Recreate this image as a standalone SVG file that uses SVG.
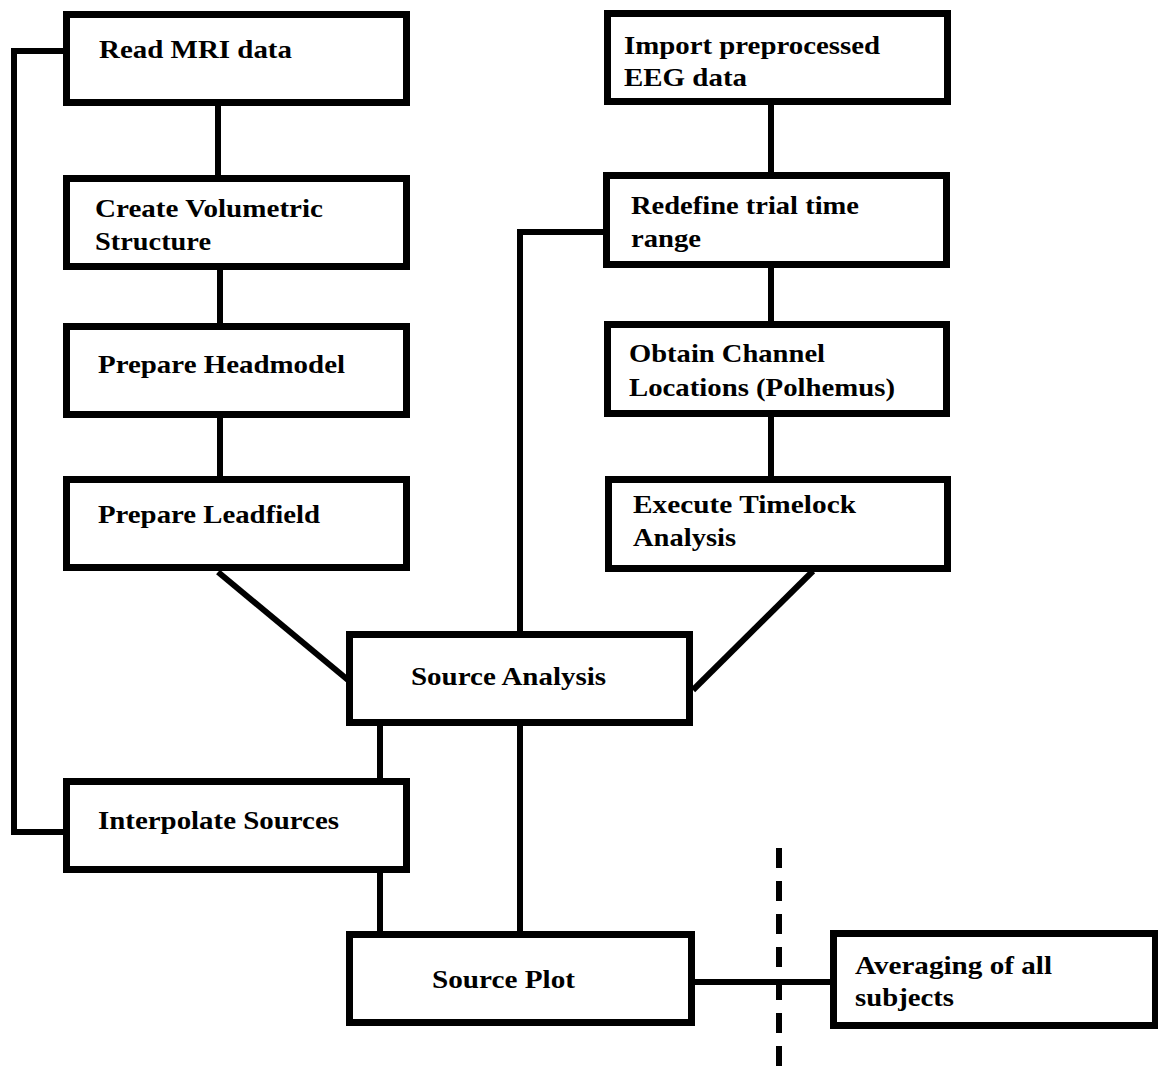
<svg xmlns="http://www.w3.org/2000/svg" width="1158" height="1076" viewBox="0 0 1158 1076">
<style>
.box{fill:#fff;stroke:#000;stroke-width:7}
.t{font-family:"Liberation Serif","Times New Roman",Times,serif;font-weight:700;font-size:26px;fill:#000}
.c{fill:none;stroke:#000;stroke-width:6}
.d{fill:none;stroke:#000;stroke-width:6;stroke-dasharray:20 13}
</style>
<rect width="1158" height="1076" fill="#fff"/>
<g id="connectors">
<polyline class="c" points="66,51 14,51 14,832 66,832"/>
<line class="c" x1="218" y1="106" x2="218" y2="176"/>
<line class="c" x1="220" y1="270" x2="220" y2="324"/>
<line class="c" x1="220" y1="418" x2="220" y2="477"/>
<line class="c" x1="218" y1="572" x2="348" y2="680"/>
<line class="c" x1="813" y1="571" x2="693" y2="690"/>
<polyline class="c" points="604,232 520,232 520,632"/>
<line class="c" x1="771" y1="104" x2="771" y2="173"/>
<line class="c" x1="771" y1="267" x2="771" y2="322"/>
<line class="c" x1="771" y1="416" x2="771" y2="477"/>
<line class="c" x1="380" y1="725" x2="380" y2="779"/>
<line class="c" x1="520" y1="725" x2="520" y2="932"/>
<line class="c" x1="380" y1="872" x2="380" y2="932"/>
<line class="c" x1="694" y1="982" x2="831" y2="982"/>
<line class="d" x1="779" y1="848" x2="779" y2="1076"/>
</g>
<g id="read-mri"><rect class="box" x="66.5" y="14.5" width="340" height="88"/><text class="t" x="99" y="58" textLength="193" lengthAdjust="spacingAndGlyphs">Read MRI data</text></g>
<g id="create-volumetric"><rect class="box" x="66.5" y="178.5" width="340" height="88"/><text class="t" x="95" y="217" textLength="228" lengthAdjust="spacingAndGlyphs">Create Volumetric</text><text class="t" x="95" y="250" textLength="116" lengthAdjust="spacingAndGlyphs">Structure</text></g>
<g id="prepare-headmodel"><rect class="box" x="66.5" y="326.5" width="340" height="88"/><text class="t" x="98" y="373" textLength="247" lengthAdjust="spacingAndGlyphs">Prepare Headmodel</text></g>
<g id="prepare-leadfield"><rect class="box" x="66.5" y="479.5" width="340" height="88"/><text class="t" x="98" y="523" textLength="222" lengthAdjust="spacingAndGlyphs">Prepare Leadfield</text></g>
<g id="interpolate-sources"><rect class="box" x="66.5" y="781.5" width="340" height="88"/><text class="t" x="98" y="829" textLength="241" lengthAdjust="spacingAndGlyphs">Interpolate Sources</text></g>
<g id="import-eeg"><rect class="box" x="607.5" y="13.5" width="340" height="88"/><text class="t" x="624" y="54" textLength="256" lengthAdjust="spacingAndGlyphs">Import preprocessed</text><text class="t" x="624" y="86" textLength="123" lengthAdjust="spacingAndGlyphs">EEG data</text></g>
<g id="redefine-trial"><rect class="box" x="606.5" y="175.5" width="340" height="89"/><text class="t" x="631" y="214" textLength="228" lengthAdjust="spacingAndGlyphs">Redefine trial time</text><text class="t" x="631" y="247" textLength="70" lengthAdjust="spacingAndGlyphs">range</text></g>
<g id="obtain-channel"><rect class="box" x="607.5" y="324.5" width="339" height="89"/><text class="t" x="629" y="362" textLength="196" lengthAdjust="spacingAndGlyphs">Obtain Channel</text><text class="t" x="629" y="396" textLength="266" lengthAdjust="spacingAndGlyphs">Locations (Polhemus)</text></g>
<g id="execute-timelock"><rect class="box" x="608.5" y="479.5" width="339" height="89"/><text class="t" x="633" y="513" textLength="223" lengthAdjust="spacingAndGlyphs">Execute Timelock</text><text class="t" x="633" y="546" textLength="103" lengthAdjust="spacingAndGlyphs">Analysis</text></g>
<g id="source-analysis"><rect class="box" x="349.5" y="634.5" width="340" height="88"/><text class="t" x="411" y="685" textLength="195" lengthAdjust="spacingAndGlyphs">Source Analysis</text></g>
<g id="source-plot"><rect class="box" x="349.5" y="934.5" width="342" height="88"/><text class="t" x="432" y="988" textLength="143" lengthAdjust="spacingAndGlyphs">Source Plot</text></g>
<g id="averaging"><rect class="box" x="833.5" y="933.5" width="322" height="92"/><text class="t" x="855" y="974" textLength="197" lengthAdjust="spacingAndGlyphs">Averaging of all</text><text class="t" x="855" y="1006" textLength="99" lengthAdjust="spacingAndGlyphs">subjects</text></g>
</svg>
